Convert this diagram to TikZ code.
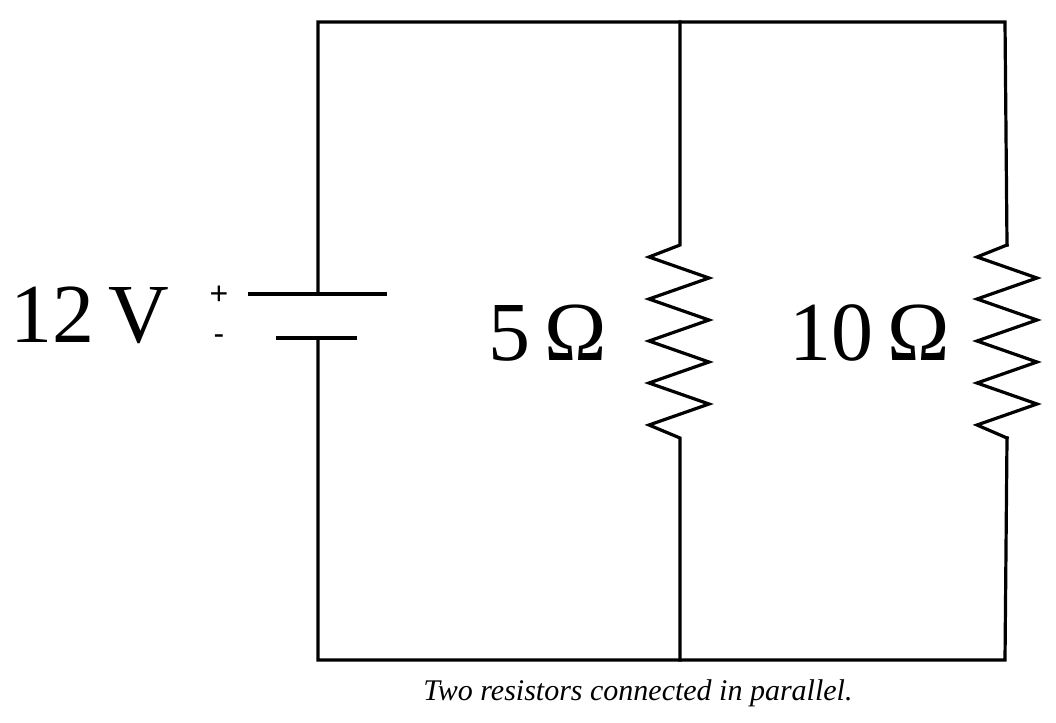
\documentclass[tikz,border=0pt]{standalone}
\usepackage{fontspec}
\setmainfont{Liberation Serif}
\newfontfamily\pmfont{Liberation Sans}
\begin{document}
\begin{tikzpicture}[x=0.75pt,y=-0.75pt,wire/.style={line width=2.4pt,line cap=rect,line join=miter},
  lbl/.style={font=\fontsize{63}{65}\selectfont,inner sep=0pt},
  pm/.style={font=\pmfont\fontsize{24}{24}\selectfont,inner sep=0pt}]
\useasboundingbox (0,0) rectangle (1056,722);
\coordinate (tl) at (318,22); \coordinate (tm) at (680,22); \coordinate (tr) at (1005,22);
\coordinate (bl) at (318,660); \coordinate (bm) at (680,660); \coordinate (br) at (1005,660);
\coordinate (bp) at (318,294); \coordinate (bn) at (318,338);
\draw[wire] (bp) -- (tl) -- (tr) -- (1007,245);
\draw[wire] (bn) -- (bl) -- (br) -- (1007,438);
\draw[wire] (250,294) -- (385,294);
\draw[wire] (278,338) -- (355,338);
\draw[wire] (tm) -- (680,245) -- (649,257) -- (709,278) -- (649,299) -- (709,320) -- (649,341) -- (709,362) -- (649,383) -- (709,404) -- (649,425) -- (680,438) -- (bm);
\draw[wire] (1007,245) -- (977,257) -- (1037,278) -- (977,299) -- (1037,320) -- (977,341) -- (1037,362) -- (977,383) -- (1037,404) -- (977,425) -- (1007,438);
\node[lbl] (v) at (90,315) {12\,V};
\node[pm] (plus) at (219,295) {+};
\node[pm] (minus) at (219,340) {-};
\node[lbl] (r1) at (548,333) {5\,Ω};
\node[lbl] (r2) at (870,333) {10\,Ω};
\node[font=\itshape\fontsize{22.5}{22}\selectfont] (cap) at (638,693) {Two resistors connected in parallel.};
\end{tikzpicture}
\end{document}
